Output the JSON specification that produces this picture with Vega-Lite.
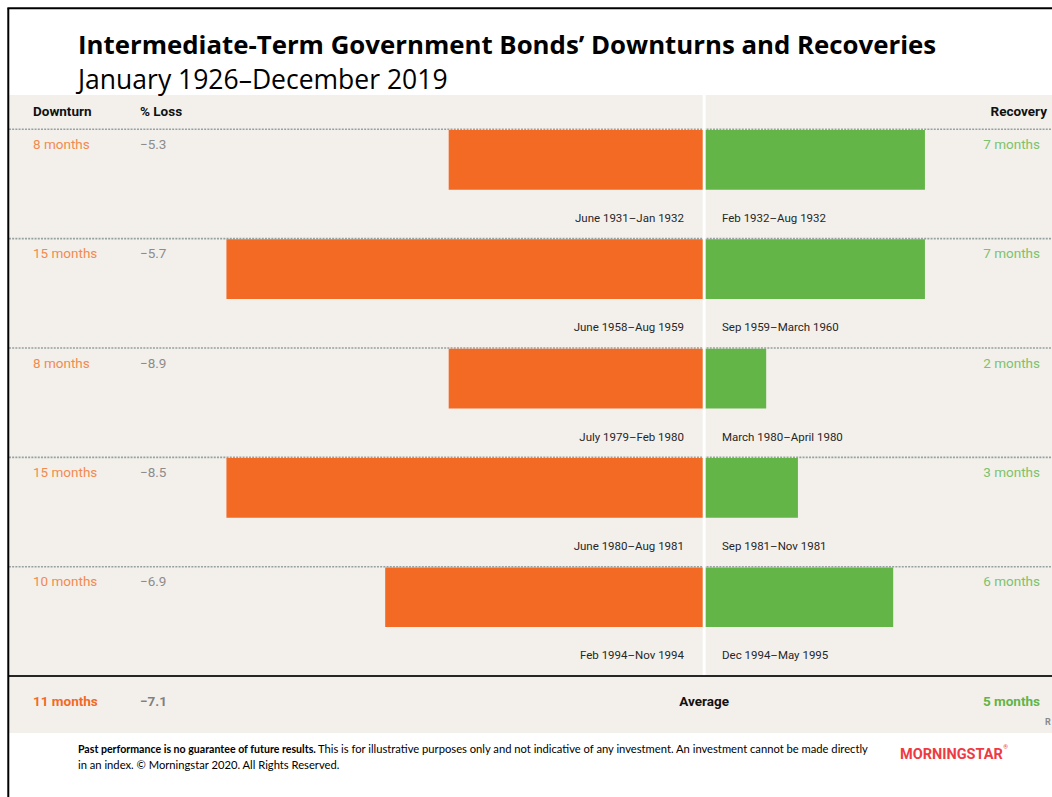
{
  "$schema": "https://vega.github.io/schema/vega-lite/v6.json",
  "width": 1052,
  "height": 797,
  "autosize": {"type": "none"},
  "padding": 0,
  "background": "white",
  "config": {"view": {"stroke": null}, "axis": {"disable": true}, "text": {"font": "Roboto"}},
  "datasets": {
    "periods": [
      {"row": 0, "downturn": 8, "loss": -5.3, "recovery": 7, "downturn_label": "8 months", "recovery_label": "7 months", "downturn_period": "June 1931–Jan 1932", "recovery_period": "Feb 1932–Aug 1932"},
      {"row": 1, "downturn": 15, "loss": -5.7, "recovery": 7, "downturn_label": "15 months", "recovery_label": "7 months", "downturn_period": "June 1958–Aug 1959", "recovery_period": "Sep 1959–March 1960"},
      {"row": 2, "downturn": 8, "loss": -8.9, "recovery": 2, "downturn_label": "8 months", "recovery_label": "2 months", "downturn_period": "July 1979–Feb 1980", "recovery_period": "March 1980–April 1980"},
      {"row": 3, "downturn": 15, "loss": -8.5, "recovery": 3, "downturn_label": "15 months", "recovery_label": "3 months", "downturn_period": "June 1980–Aug 1981", "recovery_period": "Sep 1981–Nov 1981"},
      {"row": 4, "downturn": 10, "loss": -6.9, "recovery": 6, "downturn_label": "10 months", "recovery_label": "6 months", "downturn_period": "Feb 1994–Nov 1994", "recovery_period": "Dec 1994–May 1995"}
    ],
    "average": [
      {"row": 5, "downturn": 11, "loss": -7.1, "recovery": 5, "downturn_label": "11 months", "recovery_label": "5 months", "label": "Average"}
    ],
    "one": [{}]
  },
  "resolve": {"scale": {"x": "independent"}},
  "layer": [
    {
      "layer": [
        {
          "data": {"name": "one"},
          "mark": {"type": "rect", "color": "#F3F0EC"},
          "encoding": {
            "x": {"datum": -21.85, "type": "quantitative", "scale": {"domain": [-22.132, 11.002], "nice": false, "zero": false}},
            "x2": {"datum": 11.002},
            "y": {"datum": -0.3136, "type": "quantitative", "scale": {"domain": [-1.1824, 6.106], "reverse": true, "nice": false, "zero": false}},
            "y2": {"datum": 5.5208}
          }
        },
        {
          "data": {"name": "periods"},
          "mark": {"type": "rule", "color": "#96A1A1", "strokeWidth": 1.6, "strokeDash": [2, 1.2]},
          "encoding": {
            "x": {"datum": -21.85, "type": "quantitative"},
            "x2": {"datum": 11.002},
            "y": {"field": "row", "type": "quantitative"}
          }
        },
        {
          "data": {"name": "one"},
          "mark": {"type": "rule", "color": "#262626", "strokeWidth": 2},
          "encoding": {
            "x": {"datum": -21.85, "type": "quantitative"},
            "x2": {"datum": 11.002},
            "y": {"datum": 5.0, "type": "quantitative"}
          }
        },
        {
          "data": {"name": "one"},
          "mark": {"type": "rule", "color": "white", "strokeWidth": 3},
          "encoding": {
            "x": {"datum": 0.047, "type": "quantitative"},
            "y": {"datum": -0.3136, "type": "quantitative"},
            "y2": {"datum": 4.99}
          }
        },
        {
          "data": {"name": "periods"},
          "mark": {"type": "rect", "color": "#64B548", "yOffset": 0.7, "y2Offset": 60.4},
          "encoding": {
            "x": {"field": "recovery", "type": "quantitative"},
            "x2": {"datum": 0.0945},
            "y": {"field": "row", "type": "quantitative"},
            "y2": {"field": "row"}
          }
        },
        {
          "data": {"name": "periods"},
          "mark": {"type": "text", "align": "left", "baseline": "middle", "dy": 15.5, "fontSize": 13.5, "color": "#F28A4F"},
          "encoding": {
            "x": {"datum": -21.093, "type": "quantitative"},
            "y": {"field": "row", "type": "quantitative"},
            "text": {"field": "downturn_label"}
          }
        },
        {
          "data": {"name": "periods"},
          "mark": {"type": "text", "align": "left", "baseline": "middle", "dy": 15.5, "fontSize": 13.5, "color": "#8C8C8C"},
          "encoding": {
            "x": {"datum": -17.723, "type": "quantitative"},
            "y": {"field": "row", "type": "quantitative"},
            "text": {"field": "loss", "format": ".1f"}
          }
        },
        {
          "data": {"name": "periods"},
          "mark": {"type": "text", "align": "right", "baseline": "middle", "dy": 15.5, "fontSize": 13.5, "color": "#7DC26B"},
          "encoding": {
            "x": {"datum": 10.624, "type": "quantitative"},
            "y": {"field": "row", "type": "quantitative"},
            "text": {"field": "recovery_label"}
          }
        },
        {
          "data": {"name": "periods"},
          "mark": {"type": "text", "align": "right", "baseline": "middle", "dy": 89.5, "fontSize": 11.5, "color": "#262626"},
          "encoding": {
            "x": {"datum": -0.589, "type": "quantitative"},
            "y": {"field": "row", "type": "quantitative"},
            "text": {"field": "downturn_period"}
          }
        },
        {
          "data": {"name": "periods"},
          "mark": {"type": "text", "align": "left", "baseline": "middle", "dy": 89.5, "fontSize": 11.5, "color": "#262626"},
          "encoding": {
            "x": {"datum": 0.608, "type": "quantitative"},
            "y": {"field": "row", "type": "quantitative"},
            "text": {"field": "recovery_period"}
          }
        },
        {
          "data": {"name": "one"},
          "mark": {"type": "text", "align": "left", "baseline": "middle", "fontSize": 13.5, "fontWeight": "bold", "color": "#111111"},
          "encoding": {
            "x": {"datum": -21.093, "type": "quantitative"},
            "y": {"datum": -0.1582, "type": "quantitative"},
            "text": {"value": "Downturn"}
          }
        },
        {
          "data": {"name": "one"},
          "mark": {"type": "text", "align": "left", "baseline": "middle", "fontSize": 13.5, "fontWeight": "bold", "color": "#111111"},
          "encoding": {
            "x": {"datum": -17.723, "type": "quantitative"},
            "y": {"datum": -0.1582, "type": "quantitative"},
            "text": {"value": "% Loss"}
          }
        },
        {
          "data": {"name": "one"},
          "mark": {"type": "text", "align": "right", "baseline": "middle", "fontSize": 13.5, "fontWeight": "bold", "color": "#111111"},
          "encoding": {
            "x": {"datum": 10.844, "type": "quantitative"},
            "y": {"datum": -0.1582, "type": "quantitative"},
            "text": {"value": "Recovery"}
          }
        },
        {
          "data": {"name": "average"},
          "mark": {"type": "text", "align": "left", "baseline": "middle", "dy": 25.5, "fontSize": 13.5, "fontWeight": "bold", "color": "#F26A24"},
          "encoding": {
            "x": {"datum": -21.093, "type": "quantitative"},
            "y": {"field": "row", "type": "quantitative"},
            "text": {"field": "downturn_label"}
          }
        },
        {
          "data": {"name": "average"},
          "mark": {"type": "text", "align": "left", "baseline": "middle", "dy": 25.5, "fontSize": 13.5, "fontWeight": "bold", "color": "#808080"},
          "encoding": {
            "x": {"datum": -17.723, "type": "quantitative"},
            "y": {"field": "row", "type": "quantitative"},
            "text": {"field": "loss", "format": ".1f"}
          }
        },
        {
          "data": {"name": "average"},
          "mark": {"type": "text", "align": "center", "baseline": "middle", "dy": 25.5, "fontSize": 13.5, "fontWeight": "bold", "color": "#111111"},
          "encoding": {
            "x": {"datum": 0.047, "type": "quantitative"},
            "y": {"field": "row", "type": "quantitative"},
            "text": {"field": "label"}
          }
        },
        {
          "data": {"name": "average"},
          "mark": {"type": "text", "align": "right", "baseline": "middle", "dy": 25.5, "fontSize": 13.5, "fontWeight": "bold", "color": "#62B446"},
          "encoding": {
            "x": {"datum": 10.624, "type": "quantitative"},
            "y": {"field": "row", "type": "quantitative"},
            "text": {"field": "recovery_label"}
          }
        },
        {
          "data": {"name": "one"},
          "mark": {"type": "text", "align": "left", "baseline": "middle", "fontSize": 9, "fontWeight": "bold", "color": "#8A8A8A"},
          "encoding": {
            "x": {"datum": 10.78, "type": "quantitative"},
            "y": {"datum": 5.42, "type": "quantitative"},
            "text": {"value": "R"}
          }
        },
        {
          "data": {"name": "one"},
          "mark": {"type": "text", "align": "left", "baseline": "alphabetic", "font": "Open Sans", "fontSize": 25.8, "fontWeight": "bold", "color": "#000000"},
          "encoding": {
            "x": {"datum": -19.676, "type": "quantitative"},
            "y": {"datum": -0.6886, "type": "quantitative"},
            "text": {"value": "Intermediate-Term Government Bonds’ Downturns and Recoveries"}
          }
        },
        {
          "data": {"name": "one"},
          "mark": {"type": "text", "align": "left", "baseline": "alphabetic", "font": "Open Sans", "fontSize": 26.5, "color": "#000000"},
          "encoding": {
            "x": {"datum": -19.676, "type": "quantitative"},
            "y": {"datum": -0.3685, "type": "quantitative"},
            "text": {"value": "January 1926–December 2019"}
          }
        },
        {
          "data": {"name": "one"},
          "mark": {"type": "text", "align": "left", "baseline": "middle", "font": "Lato", "fontSize": 10.6, "fontWeight": "bold", "color": "#000000"},
          "encoding": {
            "x": {"datum": -19.676, "type": "quantitative"},
            "y": {"datum": 5.676, "type": "quantitative"},
            "text": {"value": "Past performance is no guarantee of future results."}
          }
        },
        {
          "data": {"name": "one"},
          "mark": {"type": "text", "align": "left", "baseline": "middle", "font": "Lato", "fontSize": 11.2, "color": "#000000"},
          "encoding": {
            "x": {"datum": -12.117, "type": "quantitative"},
            "y": {"datum": 5.676, "type": "quantitative"},
            "text": {"value": "This is for illustrative purposes only and not indicative of any investment. An investment cannot be made directly"}
          }
        },
        {
          "data": {"name": "one"},
          "mark": {"type": "text", "align": "left", "baseline": "middle", "font": "Lato", "fontSize": 11.2, "color": "#000000"},
          "encoding": {
            "x": {"datum": -19.676, "type": "quantitative"},
            "y": {"datum": 5.822, "type": "quantitative"},
            "text": {"value": "in an index. © Morningstar 2020. All Rights Reserved."}
          }
        },
        {
          "data": {"name": "one"},
          "mark": {"type": "text", "align": "left", "baseline": "middle", "fontSize": 14.5, "fontWeight": "bold", "color": "#EE3A43"},
          "encoding": {
            "x": {"datum": 6.214, "type": "quantitative"},
            "y": {"datum": 5.722, "type": "quantitative"},
            "text": {"value": "MORNINGSTAR"}
          }
        },
        {
          "data": {"name": "one"},
          "mark": {"type": "text", "align": "left", "baseline": "middle", "fontSize": 6, "color": "#EE3A43"},
          "encoding": {
            "x": {"datum": 9.47, "type": "quantitative"},
            "y": {"datum": 5.645, "type": "quantitative"},
            "text": {"value": "®"}
          }
        },
        {
          "data": {"name": "one"},
          "mark": {"type": "rule", "color": "#000000", "strokeWidth": 2},
          "encoding": {
            "x": {"datum": -21.871, "type": "quantitative"},
            "y": {"datum": -1.1065, "type": "quantitative"},
            "y2": {"datum": 6.106}
          }
        },
        {
          "data": {"name": "one"},
          "mark": {"type": "rule", "color": "#000000", "strokeWidth": 2},
          "encoding": {
            "x": {"datum": -21.9, "type": "quantitative"},
            "x2": {"datum": 11.002},
            "y": {"datum": -1.1065, "type": "quantitative"}
          }
        }
      ]
    },
    {
      "data": {"name": "periods"},
      "mark": {"type": "rect", "color": "#F26A24", "yOffset": 0.7, "y2Offset": 60.4},
      "encoding": {
        "x": {"field": "downturn", "type": "quantitative", "scale": {"domain": [-11.002, 22.132], "reverse": true, "nice": false, "zero": false}},
        "x2": {"datum": 0},
        "y": {"field": "row", "type": "quantitative"},
        "y2": {"field": "row"}
      }
    }
  ]
}
